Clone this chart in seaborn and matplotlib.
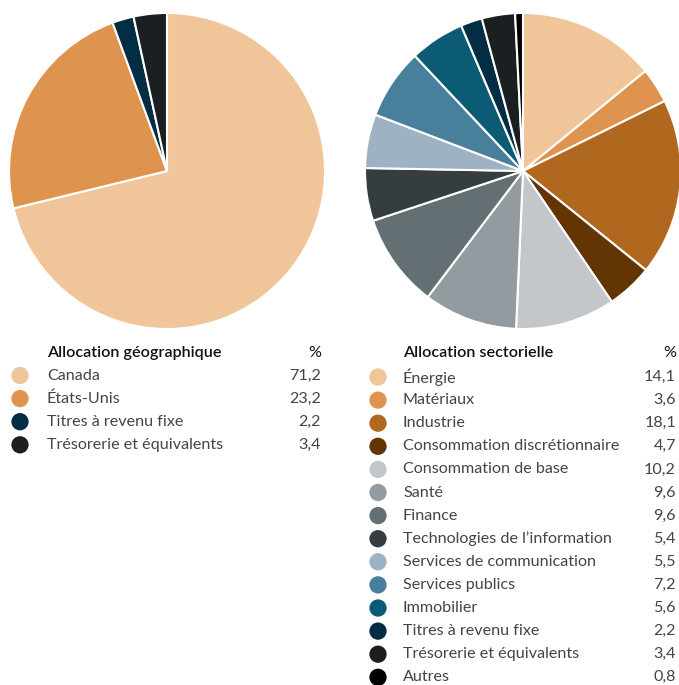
import matplotlib
matplotlib.use("Agg")
import matplotlib.pyplot as plt
import seaborn as sns

geo_labels = ["Canada", "États-Unis", "Titres à revenu fixe", "Trésorerie et équivalents"]
geo_values = [71.2, 23.2, 2.2, 3.4]
geo_colors = ["#F0C59A", "#DE944E", "#032D43", "#1B1F22"]

sec_labels = ["Énergie", "Matériaux", "Industrie", "Consommation discrétionnaire",
              "Consommation de base", "Santé", "Finance", "Technologies de l\u2019information",
              "Services de communication", "Services publics", "Immobilier",
              "Titres à revenu fixe", "Trésorerie et équivalents", "Autres"]
sec_values = [14.1, 3.6, 18.1, 4.7, 10.2, 9.6, 9.6, 5.4, 5.5, 7.2, 5.6, 2.2, 3.4, 0.8]
sec_colors = ["#F0C59A", "#DE944E", "#B0681F", "#633505", "#C3C7CA", "#939BA0",
              "#636F73", "#363D41", "#9DB3C3", "#48809C", "#0B5B74", "#032D43",
              "#1B1F22", "#000000"]

def fmt(v):
    return f"{v:.1f}".replace(".", ",")

sns.set_theme(style="white")
plt.rcParams['font.family'] = ['Lato', 'DejaVu Sans']

W, H = 679, 685
fig = plt.figure(figsize=(W / 100, H / 100), dpi=100)

def pie_axes(cx, cy, r):
    return fig.add_axes([(cx - r) / W, (H - (cy + r)) / H, 2 * r / W, 2 * r / H])

for (cx, vals, cols) in [(167, geo_values, geo_colors), (523, sec_values, sec_colors)]:
    ax = pie_axes(cx, 171, 158)
    ax.pie(vals, colors=cols, startangle=90, counterclock=False,
           wedgeprops=dict(edgecolor="white", linewidth=1.5))
    ax.set_xlim(-1, 1)
    ax.set_ylim(-1, 1)
    ax.set_aspect("equal")
    ax.axis("off")

ov = fig.add_axes([0, 0, 1, 1])
ov.set_xlim(0, W)
ov.set_ylim(H, 0)
ov.axis("off")

fs = 11.6

def table(title, labels, values, colors, xm, xt, xv, y0, y1, dy):
    ov.text(xt, y0, title, fontsize=fs, fontweight="semibold", color="#111111", va="center", ha="left")
    ov.text(xv, y0, "%", fontsize=fs, color="#111111", va="center", ha="right")
    for i, (lab, v, c) in enumerate(zip(labels, values, colors)):
        y = y1 + i * dy
        ov.scatter([xm], [y], s=155, color=c, edgecolors="none")
        ov.text(xt, y, lab, fontsize=fs, fontweight="normal", color="#444444", va="center", ha="left")
        ov.text(xv, y, fmt(v), fontsize=fs, fontweight="normal", color="#444444", va="center", ha="right")

table("Allocation géographique", geo_labels, geo_values, geo_colors, 20, 47, 321, 353, 375.5, 23.1)
table("Allocation sectorielle", sec_labels, sec_values, sec_colors, 378, 403, 676, 353, 377, 23.1)

fig.savefig("out.png", dpi=100)
